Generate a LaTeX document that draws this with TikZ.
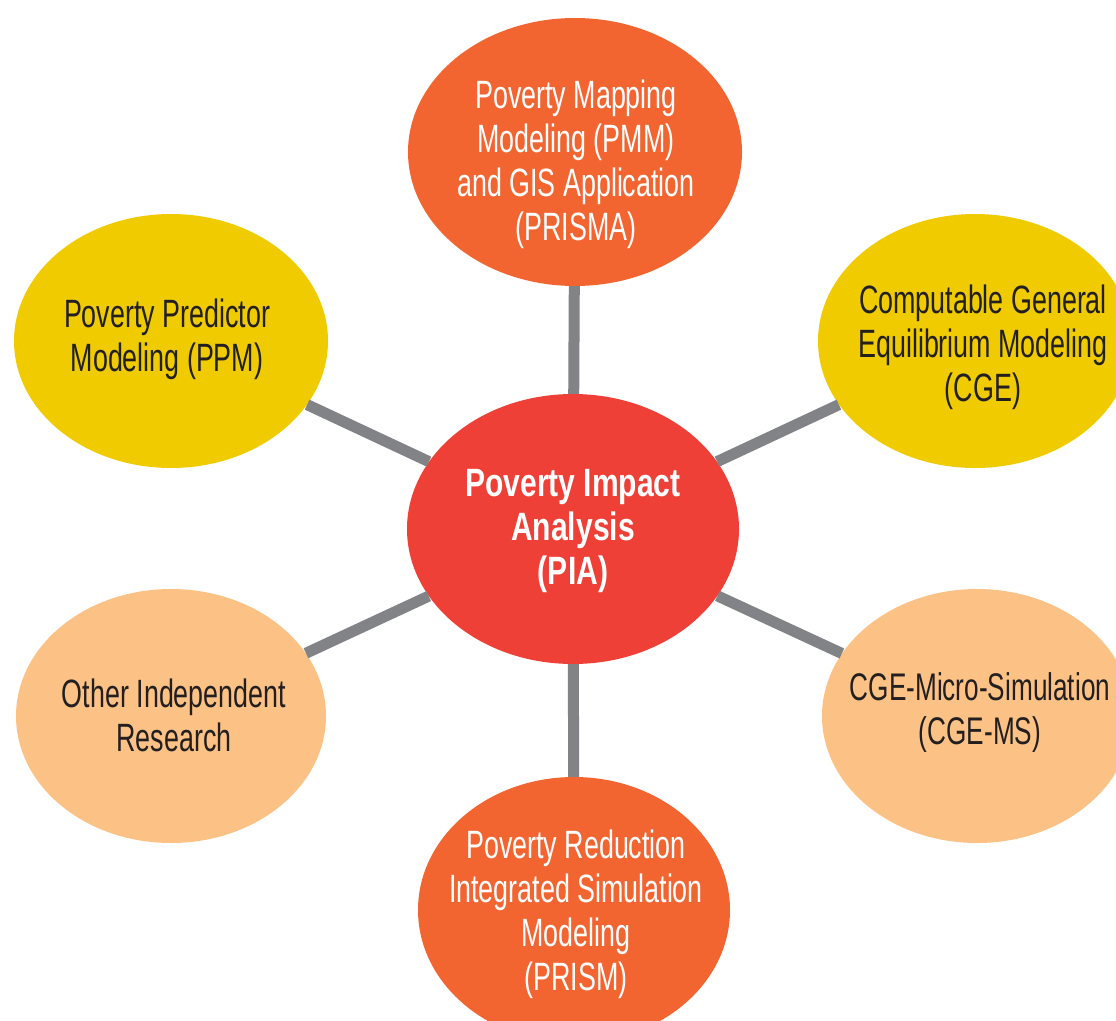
\documentclass[tikz,border=0pt]{standalone}
\usepackage{fontspec}
\setmainfont[FakeStretch=0.68]{Liberation Sans}
\newfontfamily\piafont[FakeStretch=0.76]{Liberation Sans}
\usetikzlibrary{shapes.geometric}
\definecolor{piared}{HTML}{EE4036}
\definecolor{orng}{HTML}{F26531}
\definecolor{yel}{HTML}{EFCB00}
\definecolor{lightor}{HTML}{FCC285}
\definecolor{spoke}{HTML}{818386}
\definecolor{ink}{HTML}{231F20}
\tikzset{
  bubble/.style={ellipse, inner sep=0pt, draw=none},
  txt/.style={align=center, inner sep=0pt, font=\fontsize{39.5}{44}\selectfont},
  link/.style={draw=spoke, line width=11pt}
}
\begin{document}
\begin{tikzpicture}[x=1pt, y=-1pt]
\useasboundingbox (0,0) rectangle (1116,1020);
\clip (0,0) rectangle (1116,1020);
% bubbles
\node[bubble, fill=orng, minimum width=334pt, minimum height=268pt] (prisma) at (575,152) {};
\node[bubble, fill=yel, minimum width=314pt, minimum height=254pt] (ppm) at (171,341) {};
\node[bubble, fill=yel, minimum width=314pt, minimum height=254pt] (cge) at (975,341) {};
\node[bubble, fill=piared, minimum width=332pt, minimum height=270pt] (pia) at (573,529) {};
\node[bubble, fill=lightor, minimum width=310pt, minimum height=254pt] (other) at (171,716) {};
\node[bubble, fill=lightor, minimum width=310pt, minimum height=254pt] (cgems) at (977,716) {};
\node[bubble, fill=orng, minimum width=312pt, minimum height=266pt] (prism) at (574,910) {};
% connectors
\draw[link] (pia) -- (prisma);
\draw[link] (pia) -- (ppm);
\draw[link] (pia) -- (cge);
\draw[link] (pia) -- (other);
\draw[link] (pia) -- (cgems);
\draw[link] (pia) -- (prism);
% texts
\node[txt, text=white] (tprisma) at (576,164) {Poverty Mapping\\Modeling (PMM)\\and GIS Application\\(PRISMA)};
\node[txt, text=ink] (tppm) at (167,339) {Poverty Predictor\\Modeling (PPM)};
\node[txt, text=ink] (tcge) at (983,347) {Computable General\\Equilibrium Modeling\\(CGE)};
\node[txt, text=white, font=\piafont\bfseries\fontsize{39.5}{44}\selectfont] (tpia) at (573,531) {Poverty Impact\\Analysis\\(PIA)};
\node[txt, text=ink] (tother) at (174,715) {Other Independent\\Research};
\node[txt, text=ink, font=\fontsize{38.5}{44}\selectfont] (tcgems) at (980,713) {CGE-Micro-Simulation\\(CGE-MS)};
\node[txt, text=white] (tprism) at (576,914) {Poverty Reduction\\Integrated Simulation\\Modeling\\(PRISM)};
\end{tikzpicture}
\end{document}
